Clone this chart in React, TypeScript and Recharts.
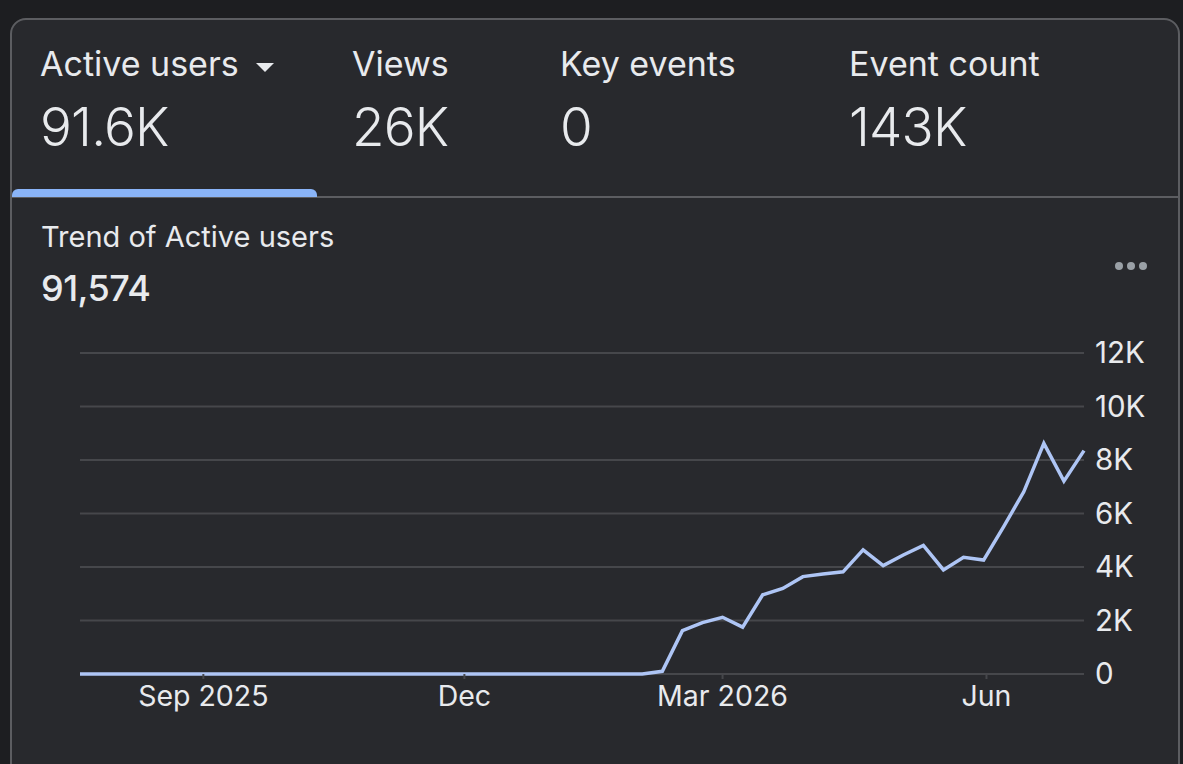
import React from 'react';
import { LineChart, Line, XAxis, YAxis, CartesianGrid } from 'recharts';

// weekly buckets (week start)
const weeks = [
  '2025-07-20', '2025-07-27', '2025-08-03', '2025-08-10', '2025-08-17', '2025-08-24',
  '2025-08-31', '2025-09-07', '2025-09-14', '2025-09-21', '2025-09-28', '2025-10-05',
  '2025-10-12', '2025-10-19', '2025-10-26', '2025-11-02', '2025-11-09', '2025-11-16',
  '2025-11-23', '2025-11-30', '2025-12-07', '2025-12-14', '2025-12-21', '2025-12-28',
  '2026-01-04', '2026-01-11', '2026-01-18', '2026-01-25', '2026-02-01', '2026-02-08',
  '2026-02-15', '2026-02-22', '2026-03-01', '2026-03-08', '2026-03-15', '2026-03-22',
  '2026-03-29', '2026-04-05', '2026-04-12', '2026-04-19', '2026-04-26', '2026-05-03',
  '2026-05-10', '2026-05-17', '2026-05-24', '2026-05-31', '2026-06-07', '2026-06-14',
  '2026-06-21', '2026-06-28', '2026-07-05',
];

const activeUsers = [
  0, 0, 0, 0, 0, 0, 0, 0, 0, 0,
  0, 0, 0, 0, 0, 0, 0, 0, 0, 0,
  0, 0, 0, 0, 0, 0, 0, 0, 0, 100,
  1620, 1920, 2120, 1750, 2960, 3200, 3640, 3740, 3820, 4640,
  4050, 4450, 4810, 3890, 4360, 4260, 5510, 6810, 8620, 7210,
  8350,
];

const xTickDates = ['2025-09-01', '2025-12-01', '2026-03-01', '2026-06-01'];
const xTickLabels = ['Sep 2025', 'Dec', 'Mar 2026', 'Jun'];
const yTicks = [0, 2000, 4000, 6000, 8000, 10000, 12000];
const yTickLabels = ['0', '2K', '4K', '6K', '8K', '10K', '12K'];

const metrics = [
  { label: 'Active users', value: '91.6K', x: 42, caret: true },
  { label: 'Views', value: '26K', x: 354 },
  { label: 'Key events', value: '0', x: 562 },
  { label: 'Event count', value: '143K', x: 851 },
];

const toTime = (d: string) => new Date(d + 'T00:00:00Z').getTime();

const data = weeks.map((w, i) => ({ t: toTime(w), users: activeUsers[i] }));
const xTicks = xTickDates.map(toTime);

const font = 'Inter, Roboto, sans-serif';

export default function App() {
  return (
    <div
      style={{
        position: 'fixed',
        left: 0,
        top: 0,
        width: 1183,
        height: 764,
        background: '#1d1e21',
        overflow: 'hidden',
        fontFamily: font,
        color: '#e8eaed',
      }}
    >
      <div
        style={{
          position: 'absolute',
          left: 10,
          top: 18,
          width: 1170,
          height: 800,
          background: '#28292d',
          border: '2px solid #5c5d61',
          borderRadius: 16,
          boxSizing: 'border-box',
        }}
      />
      {metrics.map((m) => (
        <div key={m.label} style={{ position: 'absolute', left: m.x - 2, top: 0 }}>
          <div style={{ position: 'absolute', top: 44, fontSize: 34, lineHeight: '40px', whiteSpace: 'nowrap' }}>
            {m.label}
            {m.caret && (
              <svg width="20" height="12" style={{ marginLeft: 16, verticalAlign: 'middle' }}>
                <path d="M1 2 L19 2 L10 11 Z" fill="#e8eaed" />
              </svg>
            )}
          </div>
          <div
            style={{
              position: 'absolute',
              top: 92,
              fontSize: 53,
              lineHeight: '70px',
              fontWeight: 300,
              letterSpacing: -0.8,
              whiteSpace: 'nowrap',
            }}
          >
            {m.value}
          </div>
        </div>
      ))}
      {/* tab divider + selected indicator */}
      <div style={{ position: 'absolute', left: 12, top: 196, width: 1166, height: 2, background: '#5c5d61' }} />
      <div
        style={{
          position: 'absolute',
          left: 12,
          top: 189,
          width: 305,
          height: 8,
          background: '#8ab4f8',
          borderRadius: '6px 6px 0 0',
        }}
      />
      <div style={{ position: 'absolute', left: 41, top: 219, fontSize: 29, lineHeight: '36px', whiteSpace: 'nowrap' }}>
        Trend of Active users
      </div>
      <div
        style={{
          position: 'absolute',
          left: 41,
          top: 268,
          fontSize: 36,
          lineHeight: '40px',
          fontWeight: 500,
          letterSpacing: -0.5,
        }}
      >
        91,574
      </div>
      <svg width="36" height="10" style={{ position: 'absolute', left: 1113, top: 261 }}>
        <circle cx="6" cy="5" r="4" fill="#9aa0a6" />
        <circle cx="18" cy="5" r="4" fill="#9aa0a6" />
        <circle cx="30" cy="5" r="4" fill="#9aa0a6" />
      </svg>

      <div style={{ position: 'absolute', left: 0, top: 300 }}>
        <LineChart
          width={1183}
          height={440}
          data={data}
          margin={{ top: 53, right: 29, bottom: 26, left: 80 }}
        >
          <CartesianGrid vertical={false} stroke="#46474b" strokeWidth={2} />
          <XAxis
            dataKey="t"
            type="number"
            scale="time"
            domain={[toTime(weeks[0]), toTime(weeks[weeks.length - 1])]}
            ticks={xTicks}
            tickFormatter={(v: number) => xTickLabels[xTicks.indexOf(v)]}
            axisLine={false}
            tickLine={{ stroke: '#46474b', strokeWidth: 2 }}
            tickSize={5}
            tickMargin={7}
            height={40}
            tick={{ fill: '#e8eaed', fontSize: 28.5, fontFamily: font }}
          />
          <YAxis
            orientation="right"
            domain={[0, 12000]}
            ticks={yTicks}
            tickFormatter={(v: number) => yTickLabels[yTicks.indexOf(v)]}
            axisLine={false}
            tickLine={false}
            tickSize={0}
            tickMargin={11}
            width={70}
            tick={{ fill: '#e8eaed', fontSize: 29.5, fontFamily: font, textAnchor: 'start' }}
          />
          <Line
            type="linear"
            dataKey="users"
            stroke="#aec5f5"
            strokeWidth={3.5}
            dot={false}
            isAnimationActive={false}
          />
        </LineChart>
      </div>
    </div>
  );
}
